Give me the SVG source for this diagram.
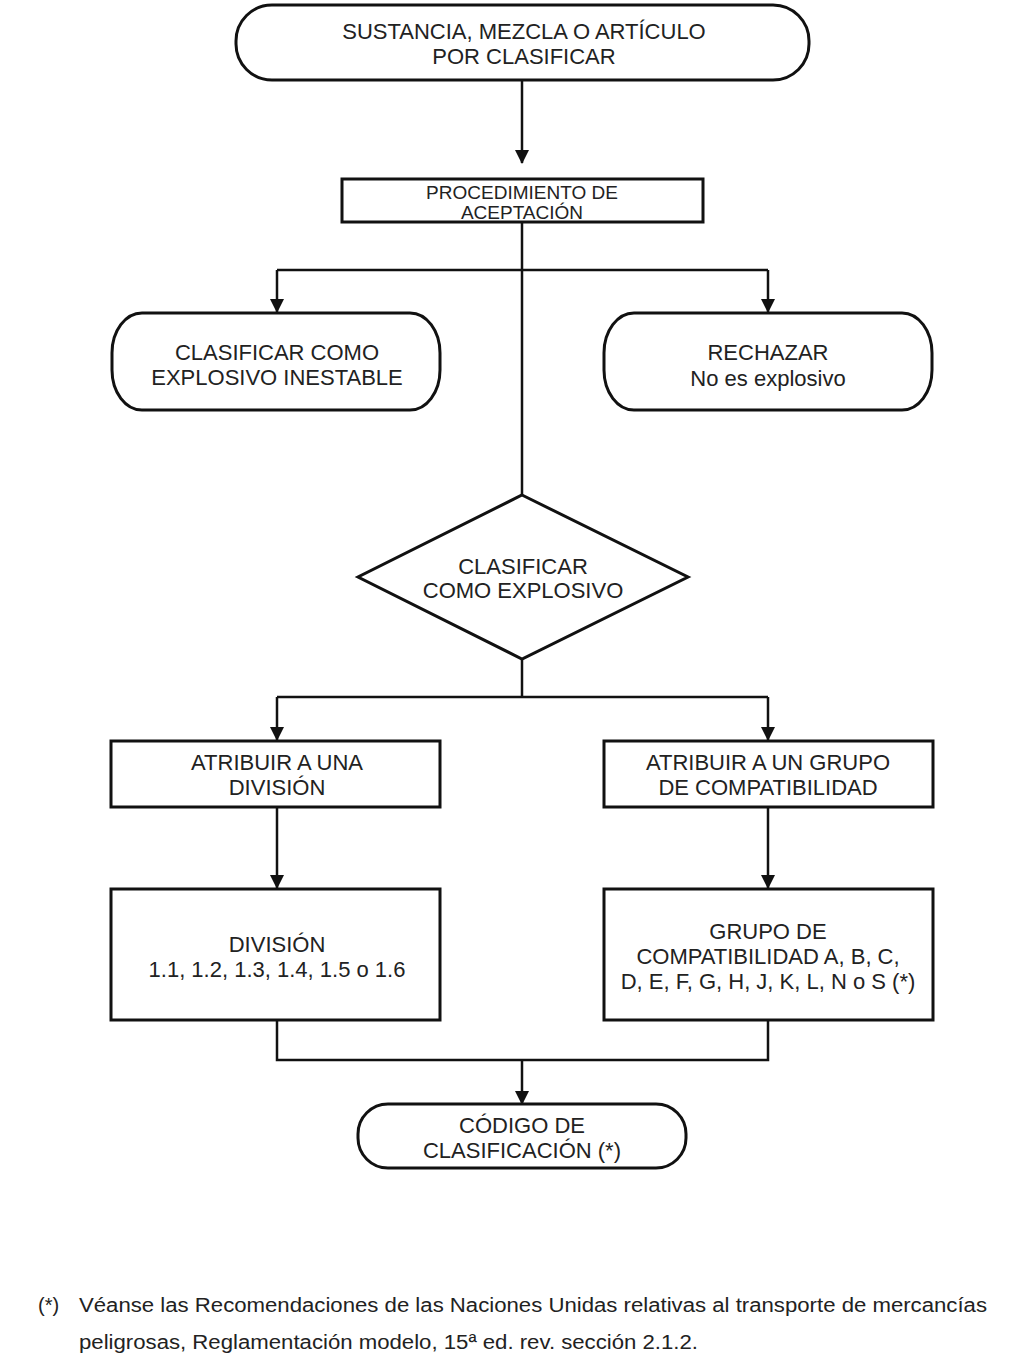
<svg xmlns="http://www.w3.org/2000/svg" width="1023" height="1364" viewBox="0 0 1023 1364">
<style>
.s{fill:#fff;stroke:#111;stroke-width:3}
.t{font-family:"Liberation Sans",Arial,sans-serif;font-size:22px;fill:#222;text-anchor:middle}
.ts{font-family:"Liberation Sans",Arial,sans-serif;font-size:19px;fill:#222;text-anchor:middle}
.c{fill:none;stroke:#111;stroke-width:2.5}
.f{font-family:"Liberation Sans",Arial,sans-serif;font-size:20px;fill:#222}
</style>
<defs>
<marker id="ah" markerWidth="14" markerHeight="14" refX="13" refY="7" orient="auto" markerUnits="userSpaceOnUse">
<path d="M0,0 L14,7 L0,14 Z" fill="#111"/>
</marker>
</defs>
<rect width="1023" height="1364" fill="#fff"/>
<g id="connectors">
<path class="c" d="M522,80 V163" marker-end="url(#ah)"/>
<path class="c" d="M522,222 V495"/>
<path class="c" d="M277,270 H768"/>
<path class="c" d="M277,270 V312" marker-end="url(#ah)"/>
<path class="c" d="M768,270 V312" marker-end="url(#ah)"/>
<path class="c" d="M522,659 V697"/>
<path class="c" d="M277,697 H768"/>
<path class="c" d="M277,697 V740" marker-end="url(#ah)"/>
<path class="c" d="M768,697 V740" marker-end="url(#ah)"/>
<path class="c" d="M277,807 V888" marker-end="url(#ah)"/>
<path class="c" d="M768,807 V888" marker-end="url(#ah)"/>
<path class="c" d="M277,1020 V1060 H768 V1020"/>
<path class="c" d="M522,1060 V1104" marker-end="url(#ah)"/>
</g>
<g id="n-start">
<rect class="s" x="236" y="5" width="573" height="75" rx="36" ry="36"/>
<text class="t" x="524" y="39">SUSTANCIA, MEZCLA O ARTÍCULO</text>
<text class="t" x="524" y="64">POR CLASIFICAR</text>
</g>
<g id="n-proc">
<rect class="s" x="342" y="179" width="361" height="43"/>
<text class="ts" x="522" y="199">PROCEDIMIENTO DE</text>
<text class="ts" x="522" y="219">ACEPTACIÓN</text>
</g>
<g id="n-inestable">
<rect class="s" x="112" y="313" width="328" height="97" rx="30" ry="40"/>
<text class="t" x="277" y="360">CLASIFICAR COMO</text>
<text class="t" x="277" y="385">EXPLOSIVO INESTABLE</text>
</g>
<g id="n-rechazar">
<rect class="s" x="604" y="313" width="328" height="97" rx="30" ry="40"/>
<text class="t" x="768" y="360">RECHAZAR</text>
<text class="t" x="768" y="386">No es explosivo</text>
</g>
<g id="n-diamond">
<polygon class="s" points="522,495 688,577 522,659 358,577"/>
<text class="t" x="523" y="574">CLASIFICAR</text>
<text class="t" x="523" y="598">COMO EXPLOSIVO</text>
</g>
<g id="n-atrib-div">
<rect class="s" x="111" y="741" width="329" height="66"/>
<text class="t" x="277" y="770">ATRIBUIR A UNA</text>
<text class="t" x="277" y="795">DIVISIÓN</text>
</g>
<g id="n-atrib-grupo">
<rect class="s" x="604" y="741" width="329" height="66"/>
<text class="t" x="768" y="770">ATRIBUIR A UN GRUPO</text>
<text class="t" x="768" y="795">DE COMPATIBILIDAD</text>
</g>
<g id="n-division">
<rect class="s" x="111" y="889" width="329" height="131"/>
<text class="t" x="277" y="952">DIVISIÓN</text>
<text class="t" x="277" y="977">1.1, 1.2, 1.3, 1.4, 1.5 o 1.6</text>
</g>
<g id="n-grupo">
<rect class="s" x="604" y="889" width="329" height="131"/>
<text class="t" x="768" y="939">GRUPO DE</text>
<text class="t" x="768" y="964">COMPATIBILIDAD A, B, C,</text>
<text class="t" x="768" y="989">D, E, F, G, H, J, K, L, N o S (*)</text>
</g>
<g id="n-codigo">
<rect class="s" x="358" y="1104" width="328" height="64" rx="30" ry="30"/>
<text class="t" x="522" y="1133">CÓDIGO DE</text>
<text class="t" x="522" y="1158">CLASIFICACIÓN (*)</text>
</g>
<g id="footnote">
<text class="f" x="38" y="1312">(*)</text>
<text class="f" x="79" y="1312" textLength="908" lengthAdjust="spacingAndGlyphs">Véanse las Recomendaciones de las Naciones Unidas relativas al transporte de mercancías</text>
<text class="f" x="79" y="1349" textLength="619" lengthAdjust="spacingAndGlyphs">peligrosas, Reglamentación modelo, 15ª ed. rev. sección 2.1.2.</text>
</g>
</svg>
